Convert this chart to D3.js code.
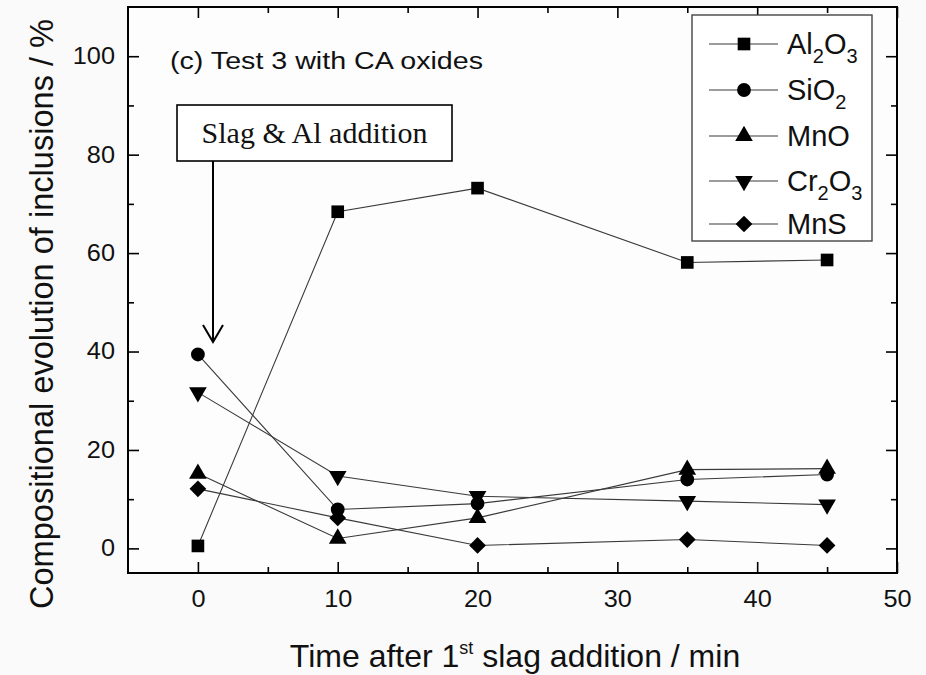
<!DOCTYPE html>
<html>
<head>
<meta charset="utf-8">
<script src="https://cdn.jsdelivr.net/npm/d3@7/dist/d3.min.js"></script>
<style>
  html, body { margin: 0; padding: 0; background: #fafafa; }
  svg { display: block; }
  text { font-family: "Liberation Sans", Arial, sans-serif; fill: #111; }
</style>
</head>
<body>
<svg id="chart" width="926" height="675"></svg>
<script>
// ---- data ----
const times = [0, 10, 20, 35, 45];
const al2o3 = [0.5, 68.4, 73.2, 58.1, 58.6];
const sio2  = [39.4, 7.9, 9.1, 14.0, 15.0];
const mno   = [15.2, 2.0, 6.2, 16.0, 16.2];
const cr2o3 = [31.7, 14.7, 10.6, 9.6, 8.9];
const mns   = [12.1, 6.2, 0.6, 1.8, 0.6];
const seriesNames = ["Al2O3", "SiO2", "MnO", "Cr2O3", "MnS"];
const xTicks = [0, 10, 20, 30, 40, 50];
const xMinor = [5, 15, 25, 35, 45];
const yTicks = [0, 20, 40, 60, 80, 100];
const yMinor = [10, 30, 50, 70, 90];

// legend label pieces: [text, isSub]
const legendParts = [
  [["Al", 0], ["2", 1], ["O", 0], ["3", 1]],
  [["SiO", 0], ["2", 1]],
  [["MnO", 0]],
  [["Cr", 0], ["2", 1], ["O", 0], ["3", 1]],
  [["MnS", 0]]
];

const svg = d3.select("#chart");
const L = 128, R = 897, T = 7, B = 573;
const x = d3.scaleLinear().domain([-5, 50]).range([L, R]);
const y = d3.scaleLinear().domain([-5, 110]).range([B, T]);

// plot background
svg.append("rect").attr("x", L).attr("y", T).attr("width", R - L).attr("height", B - T)
  .attr("fill", "#fdfdfd");

const symbolDefs = [
  { type: d3.symbolSquare, size: 160, rot: 0 },
  { type: d3.symbolCircle, size: 150, rot: 0 },
  { type: d3.symbolTriangle, size: 135, rot: 0 },
  { type: d3.symbolTriangle, size: 135, rot: 180 },
  { type: d3.symbolSquare, size: 140, rot: 45 }
];
const allSeries = [al2o3, sio2, mno, cr2o3, mns];

const line = d3.line().x(d => x(d[0])).y(d => y(d[1]));
allSeries.forEach((vals, i) => {
  const pts = times.map((t, j) => [t, vals[j]]);
  svg.append("path").datum(pts).attr("d", line)
    .attr("fill", "none").attr("stroke", "#3a3a3a").attr("stroke-width", 1.1);
});
allSeries.forEach((vals, i) => {
  const s = symbolDefs[i];
  const pts = times.map((t, j) => [t, vals[j]]);
  svg.append("g").selectAll("path").data(pts).join("path")
    .attr("d", d3.symbol().type(s.type).size(s.size))
    .attr("transform", d => `translate(${x(d[0])},${y(d[1])}) rotate(${s.rot})`)
    .attr("fill", "#000");
});

// axes
function styleAxis(g) {
  g.select(".domain").remove();
  g.selectAll(".tick line").attr("stroke", "#000").attr("stroke-width", 1.6);
}
function noText(g) { g.selectAll(".tick text").remove(); }
const fs = 23;
function labelStyle(g) {
  g.selectAll(".tick text").attr("font-size", fs)
    .attr("font-family", "Liberation Sans, Arial, sans-serif").attr("fill", "#111")
    .classed("stretch", true);
}
svg.append("g").attr("transform", `translate(0,${B})`)
  .call(d3.axisBottom(x).tickValues(xTicks).tickSize(-11).tickPadding(18).tickFormat(d3.format("d")))
  .call(styleAxis).call(labelStyle);
svg.append("g").attr("transform", `translate(0,${B})`)
  .call(d3.axisBottom(x).tickValues(xMinor).tickSize(-6))
  .call(styleAxis).call(noText);
svg.append("g").attr("transform", `translate(0,${T})`)
  .call(d3.axisTop(x).tickValues(xTicks).tickSize(-11))
  .call(styleAxis).call(noText);
svg.append("g").attr("transform", `translate(0,${T})`)
  .call(d3.axisTop(x).tickValues(xMinor).tickSize(-6))
  .call(styleAxis).call(noText);
svg.append("g").attr("transform", `translate(${L},0)`)
  .call(d3.axisLeft(y).tickValues(yTicks).tickSize(-11).tickPadding(13).tickFormat(d3.format("d")))
  .call(styleAxis).call(labelStyle);
svg.append("g").attr("transform", `translate(${L},0)`)
  .call(d3.axisLeft(y).tickValues(yMinor).tickSize(-6))
  .call(styleAxis).call(noText);
svg.append("g").attr("transform", `translate(${R},0)`)
  .call(d3.axisRight(y).tickValues(yTicks).tickSize(-11))
  .call(styleAxis).call(noText);
svg.append("g").attr("transform", `translate(${R},0)`)
  .call(d3.axisRight(y).tickValues(yMinor).tickSize(-6))
  .call(styleAxis).call(noText);

// frame
svg.append("rect").attr("x", L).attr("y", T).attr("width", R - L).attr("height", B - T)
  .attr("fill", "none").attr("stroke", "#000").attr("stroke-width", 2);

// panel title
svg.append("text").attr("x", 170).attr("y", 69).attr("font-size", 23)
  .attr("textLength", 313).attr("lengthAdjust", "spacingAndGlyphs")
  .text("(c) Test 3 with CA oxides");

// annotation box
svg.append("rect").attr("x", 177).attr("y", 105).attr("width", 275).attr("height", 56)
  .attr("fill", "#fff").attr("stroke", "#000").attr("stroke-width", 1.6);
svg.append("text").attr("x", 314.5).attr("y", 143).attr("text-anchor", "middle")
  .attr("font-size", 30)
  .style("font-family", "'Liberation Serif', 'Times New Roman', serif")
  .text("Slag & Al addition");
// arrow
svg.append("line").attr("x1", 213).attr("y1", 161).attr("x2", 213).attr("y2", 342)
  .attr("stroke", "#000").attr("stroke-width", 2);
svg.append("path").attr("d", "M203,325 L213,342 L223,325")
  .attr("fill", "none").attr("stroke", "#000").attr("stroke-width", 2);

// legend
const lg = svg.append("g");
lg.append("rect").attr("x", 692).attr("y", 15).attr("width", 180).attr("height", 226)
  .attr("fill", "#fff").attr("stroke", "#444").attr("stroke-width", 1.4);
const rowY = [44, 90, 136, 181, 224];
seriesNames.forEach((n, i) => {
  const yy = rowY[i];
  lg.append("line").attr("x1", 709).attr("x2", 778).attr("y1", yy).attr("y2", yy)
    .attr("stroke", "#3a3a3a").attr("stroke-width", 1.1);
  const s = symbolDefs[i];
  lg.append("path").attr("d", d3.symbol().type(s.type).size(s.size)())
    .attr("transform", `translate(744,${yy}) rotate(${s.rot})`).attr("fill", "#000");
  const t = lg.append("text").attr("x", 787).attr("y", yy + 10).attr("font-size", 29);
  let shifted = false;
  legendParts[i].forEach(p => {
    let dy = 0;
    if (p[1] && !shifted) { dy = 9; shifted = true; }
    else if (!p[1] && shifted) { dy = -9; shifted = false; }
    t.append("tspan").text(p[0])
      .attr("font-size", p[1] ? 20 : 29)
      .attr("dy", dy);
  });
});

// axis titles
const xt = svg.append("text").attr("x", 515).attr("y", 667).attr("text-anchor", "middle").attr("font-size", 32);
xt.append("tspan").text("Time after 1");
xt.append("tspan").text("st").attr("font-size", 18).attr("dy", -13);
xt.append("tspan").text(" slag addition / min").attr("dy", 13);

svg.append("text").attr("transform", "translate(53,314) rotate(-90)")
  .attr("text-anchor", "middle").attr("font-size", 33)
  .attr("textLength", 590).attr("lengthAdjust", "spacingAndGlyphs")
  .text("Compositional evolution of inclusions / %");

// widen tick labels slightly to match the reference glyph proportions
svg.selectAll("text.stretch").each(function() {
  const w = this.getComputedTextLength();
  d3.select(this).attr("textLength", w * 1.1).attr("lengthAdjust", "spacingAndGlyphs");
});
</script>
</body>
</html>
